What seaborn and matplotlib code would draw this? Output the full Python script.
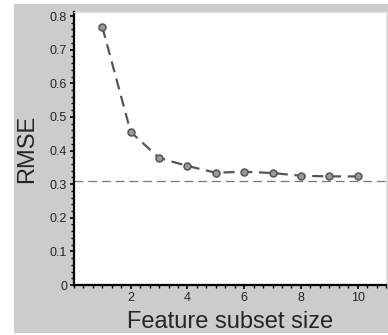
import matplotlib
matplotlib.use("Agg")
import matplotlib.pyplot as plt
from matplotlib.patches import Rectangle
from matplotlib.ticker import MultipleLocator
import seaborn as sns
import pandas as pd

# Data
subset_size = [1, 2, 3, 4, 5, 6, 7, 8, 9, 10]
rmse = [0.767, 0.455, 0.378, 0.354, 0.334, 0.337, 0.333, 0.325, 0.323, 0.323]
baseline = 0.31

df = pd.DataFrame({"size": subset_size, "rmse": rmse})

sns.set_style("ticks")
plt.rcParams['font.family'] = ['Liberation Sans', 'DejaVu Sans']

fig = plt.figure(figsize=(3.88, 3.35), dpi=100)
fig.patch.set_facecolor('white')
# gray panel behind the plot
fig.patches.append(Rectangle((14/388, 2/335), 1 - 14/388, 329/335,
                             transform=fig.transFigure, facecolor='#cccccc',
                             edgecolor='none', zorder=-10))

ax = fig.add_axes([74/388, 50/335, 312/388, 273/335])
ax.set_facecolor('white')

sns.lineplot(data=df, x="size", y="rmse", ax=ax, color='#555555',
             linewidth=1.6, dashes=False, linestyle=(0, (5, 3)),
             marker='o', markersize=5, markerfacecolor='#999999',
             markeredgecolor='#555555', markeredgewidth=1.1)
ax.axhline(baseline, color='#777777', linewidth=0.9, linestyle=(0, (7, 4)),
           zorder=1)

ax.set_xlim(0, 11)
ax.set_ylim(0, 0.812)
ax.xaxis.set_major_locator(MultipleLocator(2))
ax.xaxis.set_minor_locator(MultipleLocator(1/3))
ax.yaxis.set_major_locator(MultipleLocator(0.1))
ax.yaxis.set_minor_locator(MultipleLocator(0.02))
ax.set_yticks([0, 0.1, 0.2, 0.3, 0.4, 0.5, 0.6, 0.7, 0.8])
ax.set_yticklabels(['0', '0.1', '0.2', '0.3', '0.4', '0.5', '0.6', '0.7', '0.8'])
ax.set_xticks([2, 4, 6, 8, 10])

ax.tick_params(axis='both', which='major', length=3, width=1.2,
               labelsize=9, pad=2, color='black')
ax.tick_params(axis='both', which='minor', length=2, width=1, color='black')

for s in ['left', 'bottom']:
    ax.spines[s].set_color('black')
    ax.spines[s].set_linewidth(1.6)
for s in ['top', 'right']:
    ax.spines[s].set_visible(True)
    ax.spines[s].set_color('#e6e6e6')
    ax.spines[s].set_linewidth(1)

ax.set_xlabel('Feature subset size', fontsize=17, labelpad=5)
ax.set_ylabel('RMSE', fontsize=17, labelpad=8)

fig.savefig('out.png', dpi=100, facecolor=fig.get_facecolor())
